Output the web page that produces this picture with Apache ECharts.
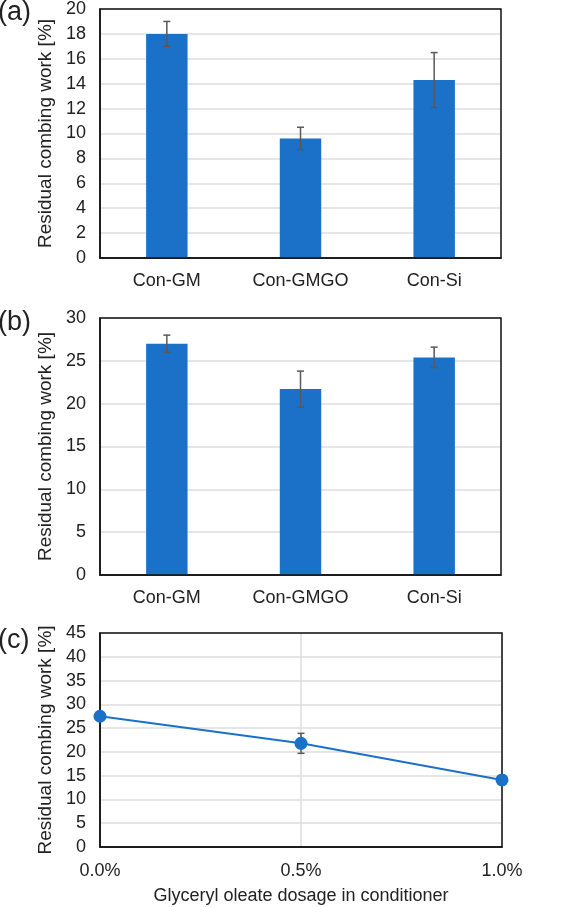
<!DOCTYPE html>
<html>
<head>
<meta charset="utf-8">
<script src="https://cdn.jsdelivr.net/npm/echarts@6/dist/echarts.min.js"></script>
<style>
html,body{margin:0;padding:0;background:#fff;}
#chart{width:564px;height:907px;}
</style>
</head>
<body>
<div id="chart"></div>
<script>
// ---- data ----
const categories = ['Con-GM', 'Con-GMGO', 'Con-Si'];
const aValues = [18.0, 9.6, 14.3];
const aErrors = [1.0, 0.9, 2.2];
const bValues = [27.0, 21.7, 25.4];
const bErrors = [1.0, 2.1, 1.2];
const cDosage = [0.0, 0.5, 1.0];   // % glyceryl oleate
const cValues = [27.5, 21.8, 14.1];
const cErrors = [0.5, 2.1, 0.5];
const panelLabels = ['(a)', '(b)', '(c)'];
const yTitle = 'Residual combing work [%]';
const xTitleC = 'Glyceryl oleate dosage in conditioner';

// ---- style ----
const FONT = '"Liberation Sans", Arial, sans-serif';
const BLUE = '#1A71C7';
const TXT = '#222';
const GRIDC = '#DEDEDE';
const ERRC = '#595959';
const BORDER = '#111';

function errRender(params, api) {
  const x = api.value(0), lo = api.value(1), hi = api.value(2);
  const p1 = api.coord([x, hi]);
  const p2 = api.coord([x, lo]);
  const hw = 3.5;
  const st = { stroke: ERRC, lineWidth: 1.5 };
  return {
    type: 'group',
    children: [
      { type: 'line', shape: { x1: p1[0], y1: p1[1], x2: p2[0], y2: p2[1] }, style: st },
      { type: 'line', shape: { x1: p1[0] - hw, y1: p1[1], x2: p1[0] + hw, y2: p1[1] }, style: st },
      { type: 'line', shape: { x1: p2[0] - hw, y1: p2[1], x2: p2[0] + hw, y2: p2[1] }, style: st }
    ]
  };
}

function yAxis(gridIndex, max, interval) {
  return {
    type: 'value', gridIndex, min: 0, max, interval,
    name: yTitle, nameLocation: 'middle', nameGap: 37,
    nameTextStyle: { fontFamily: FONT, fontSize: 19, color: TXT },
    axisLine: { show: true, lineStyle: { color: BORDER, width: 1.5 } },
    axisTick: { show: false },
    axisLabel: { fontFamily: FONT, fontSize: 18, color: TXT, margin: 14 },
    splitLine: { show: true, lineStyle: { color: GRIDC, width: 1.5 } }
  };
}

function catAxis(gridIndex) {
  return {
    type: 'category', gridIndex, data: categories,
    axisLine: { show: true, lineStyle: { color: BORDER, width: 1.5 } },
    axisTick: { show: false },
    axisLabel: { fontFamily: FONT, fontSize: 18, color: TXT, margin: 14 },
    splitLine: { show: false }
  };
}

const gridBase = { show: true, z: 4, borderColor: BORDER, borderWidth: 1.5, backgroundColor: 'transparent', containLabel: false };

const option = {
  animation: false,
  backgroundColor: '#fff',
  graphic: [
    { type: 'text', left: -2, top: -1, z: 10, style: { text: panelLabels[0], font: '27px ' + FONT, fill: TXT } },
    { type: 'text', left: -2, top: 309, z: 10, style: { text: panelLabels[1], font: '27px ' + FONT, fill: TXT } },
    { type: 'text', left: -2, top: 627, z: 10, style: { text: panelLabels[2], font: '27px ' + FONT, fill: TXT } }
  ],
  grid: [
    Object.assign({ left: 100, top: 8, width: 401, height: 250 }, gridBase),
    Object.assign({ left: 100, top: 318, width: 401, height: 257 }, gridBase),
    Object.assign({ left: 100, top: 633, width: 402, height: 214 }, gridBase)
  ],
  xAxis: [
    catAxis(0),
    catAxis(1),
    {
      type: 'value', gridIndex: 2, min: 0, max: 1, interval: 0.5,
      name: xTitleC, nameLocation: 'middle', nameGap: 40,
      nameTextStyle: { fontFamily: FONT, fontSize: 18, color: TXT },
      axisLine: { show: true, lineStyle: { color: BORDER, width: 1.5 } },
      axisTick: { show: false },
      axisLabel: { fontFamily: FONT, fontSize: 18, color: TXT, margin: 15,
        formatter: v => v.toFixed(1) + '%' },
      splitLine: { show: true, lineStyle: { color: GRIDC, width: 1.5 } }
    }
  ],
  yAxis: [yAxis(0, 20, 2), yAxis(1, 30, 5), yAxis(2, 45, 5)],
  series: [
    {
      type: 'bar', xAxisIndex: 0, yAxisIndex: 0, data: aValues,
      barWidth: '31%', itemStyle: { color: BLUE }
    },
    {
      type: 'custom', xAxisIndex: 0, yAxisIndex: 0, z: 5,
      data: aValues.map((v, i) => [i, v - aErrors[i], v + aErrors[i]]),
      renderItem: errRender
    },
    {
      type: 'bar', xAxisIndex: 1, yAxisIndex: 1, data: bValues,
      barWidth: '31%', itemStyle: { color: BLUE }
    },
    {
      type: 'custom', xAxisIndex: 1, yAxisIndex: 1, z: 5,
      data: bValues.map((v, i) => [i, v - bErrors[i], v + bErrors[i]]),
      renderItem: errRender
    },
    {
      type: 'custom', xAxisIndex: 2, yAxisIndex: 2, z: 1,
      data: cValues.map((v, i) => [cDosage[i], v - cErrors[i], v + cErrors[i]]),
      renderItem: errRender
    },
    {
      type: 'line', xAxisIndex: 2, yAxisIndex: 2, z: 6,
      data: cValues.map((v, i) => [cDosage[i], v]),
      symbol: 'circle', symbolSize: 13,
      lineStyle: { color: BLUE, width: 2 },
      itemStyle: { color: BLUE }
    }
  ]
};

const chart = echarts.init(document.getElementById('chart'), null, { renderer: 'canvas' });
chart.setOption(option);
</script>
</body>
</html>
